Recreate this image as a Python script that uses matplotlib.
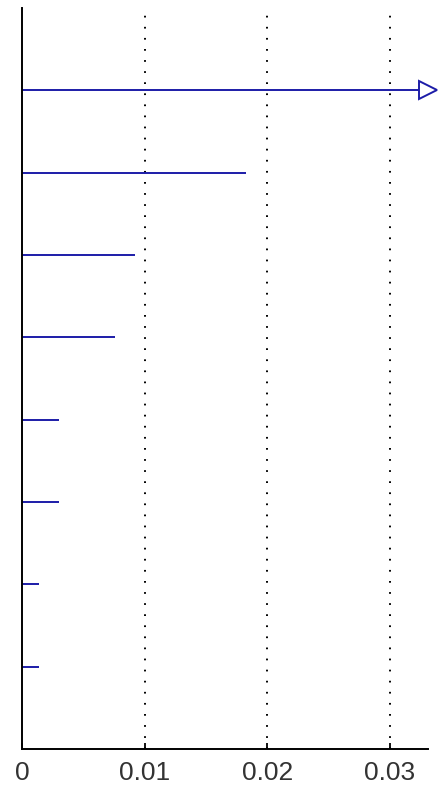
import numpy as np
import matplotlib
matplotlib.use("Agg")
from matplotlib import pyplot as plt

# values, top row first
values = [0.0331, 0.0183, 0.0092, 0.0076, 0.0030, 0.0030, 0.0014, 0.0014]
rows = list(range(1, len(values) + 1))
xticks = [0, 0.01, 0.02, 0.03]
xticklabels = ["0", "0.01", "0.02", "0.03"]

blue = "#1c1ca8"

fig = plt.figure(figsize=(4.38, 7.89), dpi=100)
ax = fig.add_axes([22 / 438, 1 - 749 / 789, (428 - 22) / 438, (749 - 8) / 789])

# dotted vertical grid
for t in xticks[1:]:
    ax.axvline(t, ymax=0.995, color="black", lw=1.4, linestyle=(0, (0.9, 4.8)), zorder=1)

# horizontal stems from zero
for r, v in zip(rows, values):
    ax.plot([0, v], [r, r], color=blue, lw=1.4, solid_capstyle="butt", zorder=2)

# top value runs past the axis: hollow arrow head at the end
ax.plot([values[0]], [rows[0]], marker=">", markersize=13, markerfacecolor="white",
        markeredgecolor=blue, markeredgewidth=1.4, clip_on=False, zorder=3)

ax.set_xlim(0, 0.0331)
ax.set_ylim(len(values) + 1, 0)

ax.spines["top"].set_visible(False)
ax.spines["right"].set_visible(False)
ax.spines["left"].set_linewidth(1.4)
ax.spines["bottom"].set_linewidth(1.4)

ax.set_yticks([])
ax.set_xticks(xticks)
ax.set_xticklabels(xticklabels, family="Liberation Sans", fontsize=19, color="#333333")
ax.tick_params(axis="x", direction="in", length=4, width=1.3, pad=9)

fig.savefig("out.png", dpi=100)
